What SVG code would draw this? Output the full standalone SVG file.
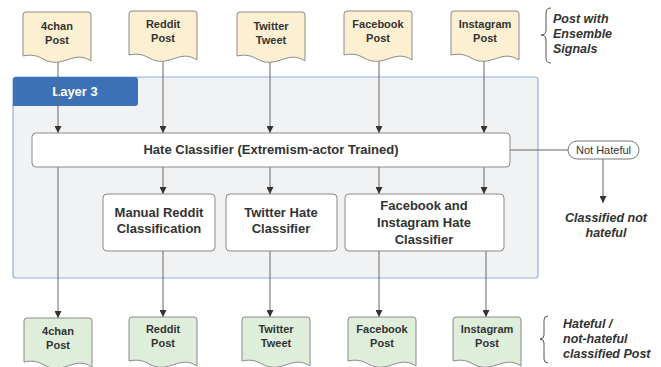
<svg xmlns="http://www.w3.org/2000/svg" width="661" height="367" viewBox="0 0 661 367">
<defs>
<style>
text{font-family:"Liberation Sans",Arial,sans-serif;fill:#333;}
.doc{stroke:#8a8a8a;stroke-width:1;}
.top{fill:#fdf0d2;}
.bot{fill:#deeedb;}
.dt{font-size:11px;font-weight:bold;text-anchor:middle;}
.box{fill:#fff;stroke:#8a8a8a;stroke-width:1;}
.bt{font-size:13px;font-weight:bold;text-anchor:middle;}
.note{font-size:12.5px;font-weight:bold;font-style:italic;}
.ln{fill:none;stroke:#666;stroke-width:1;}
.br{fill:none;stroke:#555;stroke-width:1;}
</style>
<marker id="ah" viewBox="0 0 10 10" refX="10" refY="5" markerWidth="7" markerHeight="7" orient="auto" markerUnits="userSpaceOnUse">
<path d="M0,0 L10,5 L0,10 z" fill="#333"/>
</marker>
<path id="docshape" d="M0,3 Q0,0 3,0 L65,0 Q68,0 68,3 L68,49 C50,37 40,58 20,47 C12,42 5,43 0,44 Z"/>
</defs>
<rect width="661" height="367" fill="#fff"/>

<g id="layer3">
<rect x="13" y="77" width="525" height="201" rx="3" fill="#f1f2f4" stroke="#8fb0dc" stroke-width="1.2"/>
<path d="M13,80 Q13,77 16,77 L135,77 Q138,77 138,80 L138,103 Q138,106 135,106 L13,106 Z" fill="#3c71b7"/>
<text x="75" y="96" style="fill:#fff;font-size:13px;font-weight:bold;text-anchor:middle">Layer 3</text>
</g>

<g id="connectors">
<line class="ln" x1="58" y1="58" x2="58" y2="133" marker-end="url(#ah)"/>
<line class="ln" x1="163" y1="58" x2="163" y2="133" marker-end="url(#ah)"/>
<line class="ln" x1="270" y1="58" x2="270" y2="133" marker-end="url(#ah)"/>
<line class="ln" x1="379" y1="57" x2="379" y2="133" marker-end="url(#ah)"/>
<line class="ln" x1="484" y1="58" x2="484" y2="133" marker-end="url(#ah)"/>
<line class="ln" x1="163" y1="167" x2="163" y2="194" marker-end="url(#ah)"/>
<line class="ln" x1="270" y1="167" x2="270" y2="194" marker-end="url(#ah)"/>
<line class="ln" x1="379" y1="167" x2="379" y2="194" marker-end="url(#ah)"/>
<line class="ln" x1="484" y1="167" x2="484" y2="194" marker-end="url(#ah)"/>
<line class="ln" x1="58" y1="167" x2="58" y2="318" marker-end="url(#ah)"/>
<line class="ln" x1="163" y1="251" x2="163" y2="317" marker-end="url(#ah)"/>
<line class="ln" x1="270" y1="251" x2="270" y2="317" marker-end="url(#ah)"/>
<line class="ln" x1="379" y1="251" x2="379" y2="317" marker-end="url(#ah)"/>
<line class="ln" x1="486" y1="251" x2="486" y2="317" marker-end="url(#ah)"/>
<line class="ln" x1="510" y1="150" x2="568" y2="150"/>
<line class="ln" x1="603" y1="159" x2="603" y2="203" marker-end="url(#ah)"/>
</g>

<g id="top-4chan"><use href="#docshape" class="doc top" x="23" y="12"/><text class="dt" x="57" y="30">4chan</text><text class="dt" x="57" y="44">Post</text></g>
<g id="top-reddit"><use href="#docshape" class="doc top" x="129" y="11"/><text class="dt" x="163" y="28">Reddit</text><text class="dt" x="163" y="42">Post</text></g>
<g id="top-twitter"><use href="#docshape" class="doc top" x="237" y="12"/><text class="dt" x="271" y="30">Twitter</text><text class="dt" x="271" y="44">Tweet</text></g>
<g id="top-facebook"><use href="#docshape" class="doc top" x="344" y="11"/><text class="dt" x="378" y="28">Facebook</text><text class="dt" x="378" y="42">Post</text></g>
<g id="top-instagram"><use href="#docshape" class="doc top" x="451" y="11"/><text class="dt" x="485" y="28">Instagram</text><text class="dt" x="485" y="42">Post</text></g>

<g id="note-top">
<path class="br" d="M551,8 Q546,8 546,13 L546,30 Q546,35 541,35 Q546,35 546,40 L546,58 Q546,63 551,63"/>
<text class="note" x="553" y="23">Post with</text>
<text class="note" x="553" y="38">Ensemble</text>
<text class="note" x="553" y="53">Signals</text>
</g>

<g id="hate-classifier">
<rect class="box" x="32" y="133" width="478" height="34" rx="4"/>
<text class="bt" x="271" y="154">Hate Classifier (Extremism-actor Trained)</text>
</g>

<g id="manual-reddit">
<rect class="box" x="103" y="194" width="112" height="57" rx="4"/>
<text class="bt" x="159" y="217">Manual Reddit</text>
<text class="bt" x="159" y="233">Classification</text>
</g>
<g id="twitter-hate">
<rect class="box" x="226" y="194" width="111" height="57" rx="4"/>
<text class="bt" x="281" y="217">Twitter Hate</text>
<text class="bt" x="281" y="233">Classifier</text>
</g>
<g id="fb-ig-hate">
<rect class="box" x="345" y="194" width="159" height="57" rx="4"/>
<text class="bt" x="424" y="210">Facebook and</text>
<text class="bt" x="424" y="227">Instagram Hate</text>
<text class="bt" x="424" y="244">Classifier</text>
</g>

<g id="not-hateful">
<rect x="568" y="141" width="71" height="18" rx="9" fill="#fff" stroke="#777" stroke-width="1"/>
<text x="603.5" y="154" style="font-size:11px;text-anchor:middle">Not Hateful</text>
</g>
<g id="classified-not-hateful">
<text class="note" x="606" y="222" text-anchor="middle">Classified not</text>
<text class="note" x="606" y="237" text-anchor="middle">hateful</text>
</g>

<g id="bot-4chan"><use href="#docshape" class="doc bot" x="24" y="318"/><text class="dt" x="58" y="335">4chan</text><text class="dt" x="58" y="349">Post</text></g>
<g id="bot-reddit"><use href="#docshape" class="doc bot" x="129" y="317"/><text class="dt" x="163" y="333">Reddit</text><text class="dt" x="163" y="347">Post</text></g>
<g id="bot-twitter"><use href="#docshape" class="doc bot" x="242" y="317"/><text class="dt" x="276" y="333">Twitter</text><text class="dt" x="276" y="347">Tweet</text></g>
<g id="bot-facebook"><use href="#docshape" class="doc bot" x="348" y="317"/><text class="dt" x="382" y="333">Facebook</text><text class="dt" x="382" y="347">Post</text></g>
<g id="bot-instagram"><use href="#docshape" class="doc bot" x="453" y="317"/><text class="dt" x="487" y="333">Instagram</text><text class="dt" x="487" y="347">Post</text></g>

<g id="note-bottom">
<path class="br" d="M548,316 Q544,316 544,320 L544,335 Q544,339 540,339 Q544,339 544,343 L544,359 Q544,363 548,363"/>
<text class="note" x="563" y="328">Hateful /</text>
<text class="note" x="563" y="343">not-hateful</text>
<text class="note" x="563" y="358">classified Post</text>
</g>
</svg>
